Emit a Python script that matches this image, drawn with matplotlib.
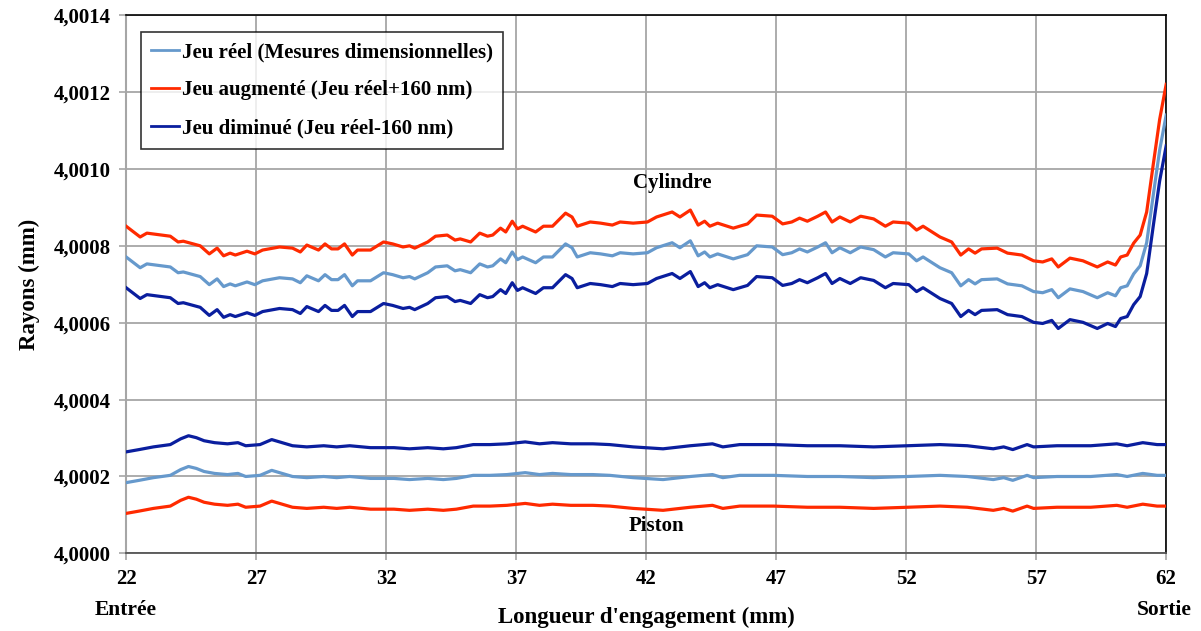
import matplotlib
matplotlib.use("Agg")
import matplotlib.pyplot as plt
from matplotlib.ticker import FuncFormatter

# Ecarts de rayon par rapport a 4 mm, en nm
x_cylindre = [22.0, 22.54, 22.8, 23.7, 24.0, 24.2, 24.85, 25.2, 25.5, 25.75,
              26.0, 26.2, 26.65, 26.95, 27.25, 27.9, 28.4, 28.7, 28.95, 29.4,
              29.65, 29.9, 30.15, 30.4, 30.7, 30.9, 31.4, 31.9, 32.25, 32.65,
              32.9, 33.1, 33.6, 33.9, 34.35, 34.65, 34.85, 35.25, 35.6, 35.9,
              36.1, 36.4, 36.6, 36.85, 37.05, 37.25, 37.75, 38.05, 38.4, 38.9,
              39.15, 39.35, 39.85, 40.25, 40.7, 41.0, 41.5, 42.05, 42.4, 43.0,
              43.3, 43.7, 44.0, 44.25, 44.45, 44.75, 45.35, 45.9, 46.25, 46.85,
              47.25, 47.6, 47.9, 48.2, 48.6, 48.9, 49.15, 49.45, 49.85, 50.25,
              50.75, 51.2, 51.5, 52.1, 52.4, 52.65, 53.3, 53.75, 54.1, 54.4,
              54.65, 54.9, 55.5, 55.9, 56.45, 56.9, 57.25, 57.6, 57.85, 58.3,
              58.8, 59.35, 59.75, 60.05, 60.25, 60.5, 60.75, 61.0, 61.25, 61.5,
              61.75, 62.0]

cyl_reel = [771, 743, 753, 745, 730, 732, 720, 699, 714, 694,
            701, 696, 706, 699, 709, 717, 714, 704, 722, 709,
            725, 712, 712, 725, 696, 709, 709, 730, 725, 717,
            720, 714, 730, 745, 748, 735, 738, 730, 753, 745,
            748, 766, 756, 784, 764, 771, 756, 771, 771, 805,
            795, 771, 782, 779, 774, 782, 779, 782, 795, 808,
            795, 813, 774, 784, 771, 779, 766, 777, 800, 797,
            777, 782, 792, 784, 797, 808, 782, 795, 782, 797,
            790, 771, 782, 779, 761, 771, 743, 730, 696, 712,
            701, 712, 714, 701, 696, 681, 678, 686, 665, 688,
            681, 665, 678, 670, 691, 696, 727, 748, 808, 930,
            1049, 1140]

cyl_augmente = [851, 823, 833, 825, 810, 812, 800, 779, 794, 774,
                781, 776, 786, 779, 789, 797, 794, 784, 802, 789,
                805, 792, 792, 805, 776, 789, 789, 810, 805, 797,
                800, 794, 810, 825, 828, 815, 818, 810, 833, 825,
                828, 846, 836, 864, 844, 851, 836, 851, 851, 885,
                875, 851, 862, 859, 854, 862, 859, 862, 875, 888,
                875, 893, 854, 864, 851, 859, 846, 857, 880, 877,
                857, 862, 872, 864, 877, 888, 862, 875, 862, 877,
                870, 851, 862, 859, 841, 851, 823, 810, 776, 792,
                781, 792, 794, 781, 776, 761, 758, 766, 745, 768,
                761, 745, 758, 750, 771, 776, 807, 828, 888, 1010,
                1129, 1220]

cyl_diminue = [691, 663, 673, 665, 650, 652, 640, 619, 634, 614,
               621, 616, 626, 619, 629, 637, 634, 624, 642, 629,
               645, 632, 632, 645, 616, 629, 629, 650, 645, 637,
               640, 634, 650, 665, 668, 655, 658, 650, 673, 665,
               668, 686, 676, 704, 684, 691, 676, 691, 691, 725,
               715, 691, 702, 699, 694, 702, 699, 702, 715, 728,
               715, 733, 694, 704, 691, 699, 686, 697, 720, 717,
               697, 702, 712, 704, 717, 728, 702, 715, 702, 717,
               710, 691, 702, 699, 681, 691, 663, 650, 616, 632,
               621, 632, 634, 621, 616, 601, 598, 606, 585, 608,
               601, 585, 598, 590, 611, 616, 647, 668, 728, 850,
               969, 1060]

x_piston = [22.0, 22.5, 23.05, 23.7, 24.1, 24.4, 24.7, 25.0, 25.4, 25.9,
            26.3, 26.6, 27.15, 27.6, 27.9, 28.4, 28.95, 29.6, 30.1, 30.6,
            31.4, 32.3, 32.9, 33.6, 34.2, 34.7, 35.35, 36.0, 36.65, 37.35,
            37.9, 38.4, 39.1, 39.95, 40.6, 41.5, 42.65, 43.7, 44.55, 44.95,
            45.6, 46.9, 48.2, 49.45, 50.75, 52.05, 53.3, 54.35, 55.35, 55.75,
            56.1, 56.65, 56.9, 57.8, 59.1, 60.1, 60.5, 61.1, 61.65, 62.0]

pis_reel = [184, 190, 197, 203, 218, 226, 221, 213, 208, 205,
            208, 200, 203, 216, 210, 200, 197, 200, 197, 200,
            195, 195, 192, 195, 192, 195, 203, 203, 205, 210,
            205, 208, 205, 205, 203, 197, 192, 200, 205, 197,
            203, 203, 200, 200, 197, 200, 203, 200, 192, 197,
            190, 203, 197, 200, 200, 205, 200, 208, 203, 203]

pis_augmente = [104, 110, 117, 123, 138, 146, 141, 133, 128, 125,
                128, 120, 123, 136, 130, 120, 117, 120, 117, 120,
                115, 115, 112, 115, 112, 115, 123, 123, 125, 130,
                125, 128, 125, 125, 123, 117, 112, 120, 125, 117,
                123, 123, 120, 120, 117, 120, 123, 120, 112, 117,
                110, 123, 117, 120, 120, 125, 120, 128, 123, 123]

pis_diminue = [264, 270, 277, 283, 298, 306, 301, 293, 288, 285,
               288, 280, 283, 296, 290, 280, 277, 280, 277, 280,
               275, 275, 272, 275, 272, 275, 283, 283, 285, 290,
               285, 288, 285, 285, 283, 277, 272, 280, 285, 277,
               283, 283, 280, 280, 277, 280, 283, 280, 272, 277,
               270, 283, 277, 280, 280, 285, 280, 288, 283, 283]

labels = ["Jeu réel (Mesures dimensionnelles)",
          "Jeu augmenté (Jeu réel+160 nm)",
          "Jeu diminué (Jeu réel-160 nm)"]
couleurs = ["#6699CC", "#FF2A00", "#0A1E9E"]
x_ticks = [22, 27, 32, 37, 42, 47, 52, 57, 62]
y_ticks = [0, 200, 400, 600, 800, 1000, 1200, 1400]

plt.rcParams["font.family"] = ["Liberation Serif", "DejaVu Serif"]
plt.rcParams["font.weight"] = "bold"

fig = plt.figure(figsize=(12.01, 6.31), dpi=100)
ax = fig.add_axes([0.105, 0.123, 0.866, 0.853])

cyl = [cyl_reel, cyl_augmente, cyl_diminue]
pis = [pis_reel, pis_augmente, pis_diminue]
for i in range(3):
    ax.plot(x_cylindre, cyl[i], color=couleurs[i], lw=2.3, label=labels[i], zorder=3)
    ax.plot(x_piston, pis[i], color=couleurs[i], lw=2.3, zorder=3)

ax.set_xlim(22, 62)
ax.set_ylim(0, 1400)
ax.set_xticks(x_ticks)
ax.set_yticks(y_ticks)
ax.yaxis.set_major_formatter(FuncFormatter(lambda v, p: f"{4 + v / 1e6:.4f}".replace(".", ",")))
ax.grid(True, color="#A6A6A6", lw=1.3, zorder=0)
ax.tick_params(labelsize=15, length=5, width=1.2, color="#A6A6A6", pad=6)
for lab in ax.get_xticklabels() + ax.get_yticklabels():
    lab.set_fontweight("bold")

for s in ["top", "right"]:
    ax.spines[s].set_color("black")
    ax.spines[s].set_linewidth(1.2)
ax.spines["bottom"].set_color("#555555")
ax.spines["bottom"].set_linewidth(1.3)
ax.spines["left"].set_color("#A6A6A6")
ax.spines["left"].set_linewidth(1.5)

ax.set_xlabel("Longueur d'engagement (mm)", fontsize=16.5, fontweight="bold", labelpad=13)
ax.set_ylabel("Rayons (mm)", fontsize=16.5, fontweight="bold", labelpad=10)

ax.text(43.0, 964, "Cylindre", fontsize=15, fontweight="bold", ha="center", va="center")
ax.text(42.4, 70, "Piston", fontsize=15, fontweight="bold", ha="center", va="center")

fig.text(126 / 1201, 1 - 610 / 631, "Entrée", fontsize=15.5, fontweight="bold", ha="center", va="center")
fig.text(1164 / 1201, 1 - 610 / 631, "Sortie", fontsize=15.5, fontweight="bold", ha="center", va="center")

leg = ax.legend(loc="upper left", bbox_to_anchor=(0.0144, 0.968), fontsize=15, frameon=True,
                fancybox=False, edgecolor="black", handlelength=1.3, handletextpad=0.15,
                labelspacing=0.85, borderpad=0.5, borderaxespad=0)
leg.get_frame().set_linewidth(1.2)
for t in leg.get_texts():
    t.set_fontweight("bold")
for h in leg.get_lines():
    h.set_linewidth(2.0)

fig.savefig("out.png", dpi=100)
